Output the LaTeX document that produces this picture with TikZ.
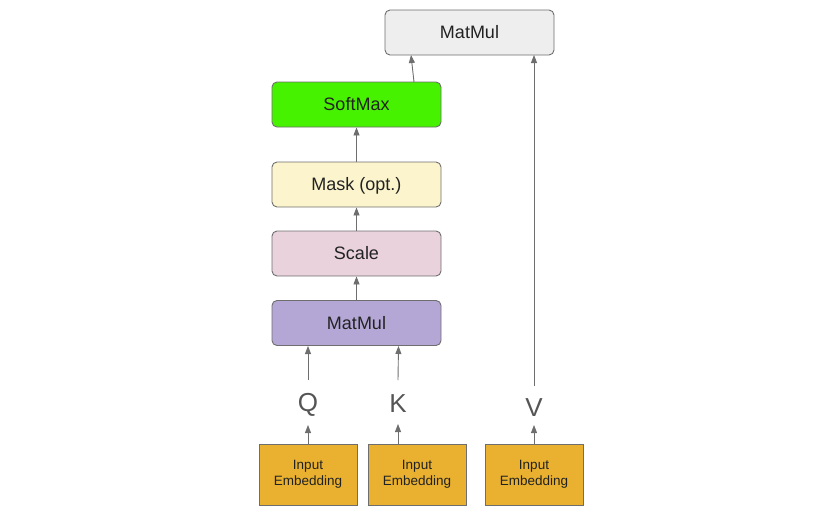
\documentclass[tikz,border=0pt]{standalone}
\usepackage{fontspec}
\setmainfont{Liberation Sans}
\usetikzlibrary{arrows.meta}
\definecolor{edge}{HTML}{6E6E6E}
\definecolor{cTop}{HTML}{EEEEEE}
\definecolor{cSoft}{HTML}{47F200}
\definecolor{cMask}{HTML}{FCF4CC}
\definecolor{cScale}{HTML}{E9D2DC}
\definecolor{cMM}{HTML}{B4A7D6}
\definecolor{cEmb}{HTML}{E9B12F}
\definecolor{txt}{HTML}{222222}
\definecolor{letter}{HTML}{555555}
\tikzset{
  opbox/.style={draw=edge, line width=0.9pt, rounded corners=5pt, minimum width=169pt, minimum height=45pt, inner sep=0pt, text depth=1pt, font=\fontsize{18}{20}\selectfont, text=txt},
  embbox/.style={draw=edge, line width=0.9pt, minimum width=98pt, minimum height=61pt, inner sep=0pt, align=center, font=\fontsize{13.5}{16}\selectfont, text=txt},
  letterlbl/.style={inner sep=0pt, font=\fontsize{26}{28}\selectfont, text=letter},
  arr/.style={draw=edge, line width=0.9pt, -{Triangle[length=8pt,width=6pt]}}
}
\begin{document}
\begin{tikzpicture}[x=1pt,y=-1pt]
\useasboundingbox (0,0) rectangle (839,528);
\node[opbox, fill=cTop] (mmtop) at (469.5,32.5) {MatMul};
\node[opbox, fill=cSoft] (soft) at (356.5,104.5) {SoftMax};
\node[opbox, fill=cMask] (mask) at (356.5,184.5) {Mask (opt.)};
\node[opbox, fill=cScale] (scale) at (356.5,253.5) {Scale};
\node[opbox, fill=cMM] (mm) at (356.5,323) {MatMul};
\node[embbox, fill=cEmb] (e1) at (308,474.5) {Input\\Embedding};
\node[embbox, fill=cEmb] (e2) at (417,474.5) {Input\\Embedding};
\node[embbox, fill=cEmb] (e3) at (534,474.5) {Input\\Embedding};
\node[letterlbl] (Q) at (308,405) {Q};
\node[letterlbl] (K) at (398,404) {K};
\node[letterlbl] (V) at (534,408) {V};
% connector end points around the letters
\coordinate (qlo) at (308,425);
\coordinate (klo) at (398,424);
\coordinate (vlo) at (534,425);
\coordinate (qhi) at (308,380);
\coordinate (khi) at (398,380);
\coordinate (vhi) at (534,386);
\coordinate (qin) at (308,346);
\coordinate (kin) at (398.5,346);
\coordinate (vin) at (534,55);
\coordinate (sout) at (414,82);
\coordinate (sin) at (411,55);
\draw[arr] (e1.north -| qlo) -- (qlo);
\draw[arr] (e2.north -| klo) -- (klo);
\draw[arr] (e3.north -| vlo) -- (vlo);
\draw[arr] (qhi) -- (qin);
\draw[arr] (khi) -- (kin);
\draw[arr] (vhi) -- (vin);
\draw[arr] (sout) -- (sin);
\draw[arr] (mask.north) -- (soft.south);
\draw[arr] (scale.north) -- (mask.south);
\draw[arr] (mm.north) -- (scale.south);
\end{tikzpicture}
\end{document}
